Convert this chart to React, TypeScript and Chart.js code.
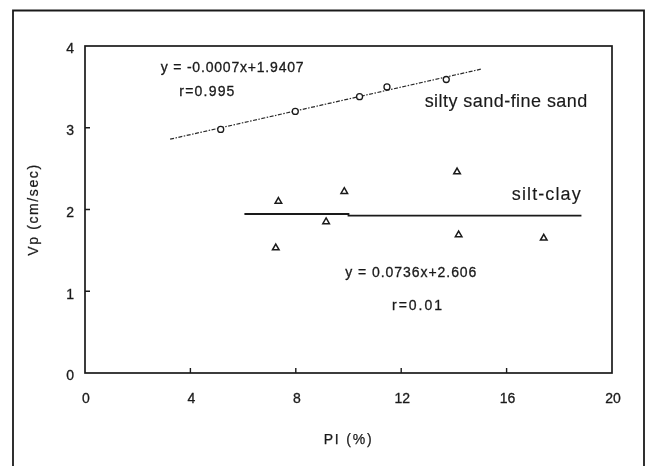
import { useEffect, useRef } from "react";
import { Chart, registerables } from "chart.js";

Chart.register(...registerables);

// Axis ticks
const xTickValues = [0, 4, 8, 12, 16, 20];
const yTickValues = [0, 1, 2, 3, 4];

// silty sand-fine sand: PI (%) vs Vp
const sandPI = [5.15, 7.98, 10.42, 11.46, 13.71];
const sandVp = [2.98, 3.2, 3.38, 3.5, 3.59];
// fitted line for silty sand-fine sand
const sandFitPI = [3.23, 15.07];
const sandFitVp = [2.86, 3.72];

// silt-clay: PI (%) vs Vp
const clayPI = [7.34, 7.24, 9.15, 9.84, 14.12, 14.18, 17.41];
const clayVp = [2.1, 1.53, 1.85, 2.22, 2.46, 1.69, 1.65];
// fitted line for silt-clay
const clayFitPI = [6.05, 10.0, 10.0, 18.84];
const clayFitVp = [1.945, 1.945, 1.926, 1.926];

// Text notes placed in data coordinates (left edge, vertical centre)
const noteTexts = [
  "y = -0.0007x+1.9407",
  "r=0.995",
  "silty sand-fine sand",
  "silt-clay",
  "y = 0.0736x+2.606",
  "r=0.01",
];
const notePI = [2.875, 3.58, 12.89, 16.2, 9.875, 11.65];
const noteVp = [3.727, 3.44, 3.32, 2.18, 1.222, 0.814];

const INK = "#1a1a1a";
const FONT = "'Liberation Sans', Arial, Helvetica, sans-serif";
const noteStyle = [
  { size: 14, spacing: 0.8, stroke: 0.3 },
  { size: 14, spacing: 1.2, stroke: 0.3 },
  { size: 18, spacing: 0.45, stroke: 0.15 },
  { size: 18, spacing: 1.1, stroke: 0.15 },
  { size: 14, spacing: 0.95, stroke: 0.3 },
  { size: 14, spacing: 2, stroke: 0.3 },
];

const toPoints = (xs: number[], ys: number[]) => xs.map((x, i) => ({ x, y: ys[i] }));

function drawSpacedText(
  ctx: CanvasRenderingContext2D,
  text: string,
  x: number,
  y: number,
  size: number,
  spacing: number,
  stroke: number,
  align: CanvasTextAlign
) {
  ctx.save();
  ctx.font = `${size}px ${FONT}`;
  (ctx as any).letterSpacing = `${spacing}px`;
  ctx.fillStyle = INK;
  ctx.strokeStyle = INK;
  ctx.lineWidth = stroke;
  ctx.textAlign = align;
  ctx.textBaseline = "middle";
  ctx.fillText(text, x, y);
  if (stroke > 0) ctx.strokeText(text, x, y);
  ctx.restore();
}

const framePlugin = {
  id: "frame",
  beforeDatasetsDraw(chart: any) {
    const { ctx, chartArea } = chart;
    const { left, top, right, bottom } = chartArea;
    const xs = chart.scales.x;
    const ys = chart.scales.y;
    ctx.save();
    ctx.strokeStyle = INK;
    ctx.lineWidth = 1.7;
    ctx.strokeRect(left, top, right - left, bottom - top);
    // inward tick marks
    ctx.lineWidth = 1.4;
    ctx.beginPath();
    yTickValues.slice(1, -1).forEach((v) => {
      const py = ys.getPixelForValue(v);
      ctx.moveTo(left, py);
      ctx.lineTo(left + 5, py);
    });
    xTickValues.slice(1, -1).forEach((v) => {
      const px = xs.getPixelForValue(v);
      ctx.moveTo(px, bottom);
      ctx.lineTo(px, bottom - 5);
    });
    ctx.stroke();
    ctx.restore();
  },
  afterDraw(chart: any) {
    const { ctx, chartArea } = chart;
    const xs = chart.scales.x;
    const ys = chart.scales.y;
    // outer figure frame (open at the bottom edge of the page)
    ctx.save();
    ctx.strokeStyle = INK;
    ctx.lineWidth = 1.8;
    ctx.beginPath();
    ctx.moveTo(13, 480);
    ctx.lineTo(13, 10.5);
    ctx.lineTo(644, 10.5);
    ctx.lineTo(644, 480);
    ctx.stroke();
    ctx.restore();

    // text notes
    noteTexts.forEach((t, i) => {
      drawSpacedText(
        ctx,
        t,
        xs.getPixelForValue(notePI[i]),
        ys.getPixelForValue(noteVp[i]),
        noteStyle[i].size,
        noteStyle[i].spacing,
        noteStyle[i].stroke,
        "left"
      );
    });

    // axis titles
    const cx = (chartArea.left + chartArea.right) / 2;
    drawSpacedText(ctx, "PI (%)", cx, 440, 14, 1.8, 0.25, "center");
    ctx.save();
    ctx.translate(34, (chartArea.top + chartArea.bottom) / 2);
    ctx.rotate(-Math.PI / 2);
    drawSpacedText(ctx, "Vp (cm/sec)", 0, 0, 14, 1.6, 0.25, "center");
    ctx.restore();
  },
};

export default function App() {
  const canvasRef = useRef<HTMLCanvasElement | null>(null);

  useEffect(() => {
    document.body.style.margin = "0";
    document.body.style.background = "#ffffff";
    const canvas = canvasRef.current;
    if (!canvas) return;

    const tickFont = { family: FONT, size: 14 };

    const chart = new Chart(canvas, {
      type: "scatter",
      data: {
        datasets: [
          {
            label: "silty sand-fine sand fit",
            data: toPoints(sandFitPI, sandFitVp),
            showLine: true,
            borderColor: "#2a2a2a",
            borderWidth: 1.2,
            borderDash: [4, 1.5, 1.5, 1.5],
            pointRadius: 0,
            order: 3,
          },
          {
            label: "silt-clay fit",
            data: toPoints(clayFitPI, clayFitVp),
            showLine: true,
            borderColor: INK,
            borderWidth: 1.8,
            pointRadius: 0,
            order: 3,
          },
          {
            label: "silty sand-fine sand",
            data: toPoints(sandPI, sandVp),
            pointStyle: "circle",
            pointRadius: 3,
            pointBorderWidth: 1.3,
            pointBorderColor: INK,
            pointBackgroundColor: "#ffffff",
            order: 1,
          },
          {
            label: "silt-clay",
            data: toPoints(clayPI, clayVp),
            pointStyle: "triangle",
            pointRadius: 3.8,
            pointBorderWidth: 1.5,
            pointBorderColor: INK,
            pointBackgroundColor: "#ffffff",
            order: 1,
          },
        ],
      },
      options: {
        responsive: false,
        animation: false,
        layout: { padding: { left: 0, top: 46, right: 36, bottom: 0 } },
        plugins: {
          legend: { display: false },
          tooltip: { enabled: false },
        },
        scales: {
          x: {
            type: "linear",
            min: 0,
            max: 20,
            afterFit: (s: any) => {
              s.height = 93;
            },
            afterBuildTicks: (s: any) => {
              s.ticks = xTickValues.map((value) => ({ value }));
            },
            grid: { display: false, drawTicks: false },
            border: { display: false },
            ticks: {
              color: INK,
              font: tickFont,
              padding: 17.5,
              labelOffset: 1,
              maxRotation: 0,
              textStrokeColor: INK,
              textStrokeWidth: 0.3,
            },
          },
          y: {
            type: "linear",
            min: 0,
            max: 4,
            afterFit: (s: any) => {
              s.width = 85;
            },
            afterBuildTicks: (s: any) => {
              s.ticks = yTickValues.map((value) => ({ value }));
            },
            grid: { display: false, drawTicks: false },
            border: { display: false },
            ticks: {
              color: INK,
              font: tickFont,
              padding: 11,
              labelOffset: 3.5,
              textStrokeColor: INK,
              textStrokeWidth: 0.3,
            },
          },
        },
      },
      plugins: [framePlugin],
    });

    return () => chart.destroy();
  }, []);

  return (
    <div style={{ position: "absolute", left: 0, top: 0, width: 648, height: 466, background: "#ffffff" }}>
      <canvas ref={canvasRef} width={648} height={466} style={{ display: "block" }} />
    </div>
  );
}
